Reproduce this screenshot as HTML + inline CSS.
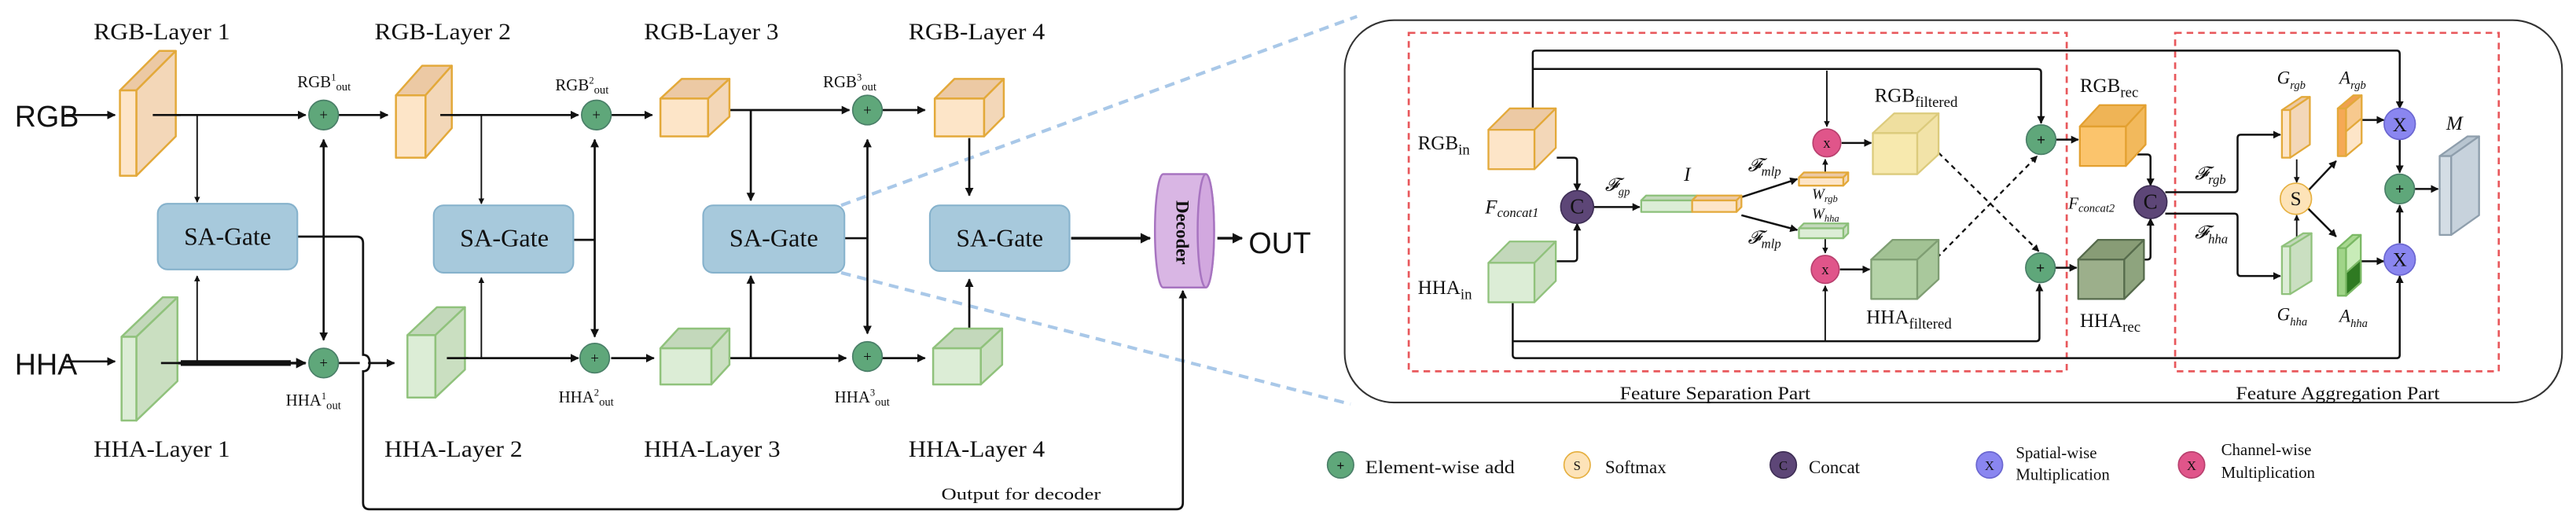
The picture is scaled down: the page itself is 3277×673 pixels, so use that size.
<!DOCTYPE html>
<html><head><meta charset="utf-8"><style>
html,body{margin:0;padding:0;background:#fff;}
svg{display:block;}
text{font-family:"Liberation Serif",serif;fill:#111;}
.sans{font-family:"Liberation Sans",sans-serif;}
.it{font-style:italic;}
</style></head><body>
<svg width="3277" height="673" viewBox="0 0 1568 322" preserveAspectRatio="none" xmlns="http://www.w3.org/2000/svg">
<defs>
<marker id="a" viewBox="0 0 10 10" refX="9" refY="5" markerWidth="4" markerHeight="4" orient="auto-start-reverse"><path d="M0,0 L10,5 L0,10 z" fill="#111"/></marker>
</defs>
<rect width="1568" height="322" fill="#fff"/>

<!-- blue dashed zoom lines -->
<g stroke="#a9c8e8" stroke-width="2" stroke-dasharray="6,4" fill="none">
<line x1="512" y1="125" x2="826" y2="10"/>
<line x1="512" y1="166" x2="822" y2="246"/>
</g>

<!-- ===== LEFT PART ===== -->
<g font-size="14">
<text x="57" y="24" textLength="83" lengthAdjust="spacingAndGlyphs">RGB-Layer 1</text>
<text x="228" y="24" textLength="83" lengthAdjust="spacingAndGlyphs">RGB-Layer 2</text>
<text x="392" y="24" textLength="82" lengthAdjust="spacingAndGlyphs">RGB-Layer 3</text>
<text x="553" y="24" textLength="83" lengthAdjust="spacingAndGlyphs">RGB-Layer 4</text>
<text x="57" y="278" textLength="83" lengthAdjust="spacingAndGlyphs">HHA-Layer 1</text>
<text x="234" y="278" textLength="84" lengthAdjust="spacingAndGlyphs">HHA-Layer 2</text>
<text x="392" y="278" textLength="83" lengthAdjust="spacingAndGlyphs">HHA-Layer 3</text>
<text x="553" y="278" textLength="83" lengthAdjust="spacingAndGlyphs">HHA-Layer 4</text>
</g>
<text class="sans" x="9" y="77" font-size="18">RGB</text>
<text class="sans" x="9" y="228" font-size="18">HHA</text>
<text class="sans" x="760" y="154" font-size="18">OUT</text>
<text x="573" y="304" font-size="10" textLength="97" lengthAdjust="spacingAndGlyphs">Output for decoder</text>

<!-- connectors left -->
<g stroke="#111" stroke-width="1.3" fill="none">
<line x1="40" y1="70" x2="70" y2="70" marker-end="url(#a)"/>
<line x1="40" y1="220" x2="70" y2="220" marker-end="url(#a)"/>
<line x1="93" y1="70" x2="186" y2="70" marker-end="url(#a)"/>
<line x1="206" y1="70" x2="236" y2="70" marker-end="url(#a)"/>
<line x1="268" y1="70" x2="352" y2="70" marker-end="url(#a)"/>
<line x1="372" y1="70" x2="397" y2="70" marker-end="url(#a)"/>
<line x1="436" y1="67" x2="517" y2="67" marker-end="url(#a)"/>
<line x1="537" y1="67" x2="563" y2="67" marker-end="url(#a)"/>
<line x1="98" y1="221" x2="186" y2="221" marker-end="url(#a)" stroke-width="1.6"/>
<line x1="110" y1="221" x2="177" y2="221" stroke-width="3.5"/>
<path d="M206,221 H219 M224,221 H240" marker-end="url(#a)"/>
<line x1="272" y1="218" x2="352" y2="218" marker-end="url(#a)"/>
<line x1="372" y1="218" x2="398" y2="218" marker-end="url(#a)"/>
<line x1="436" y1="218" x2="515" y2="218" marker-end="url(#a)"/>
<line x1="537" y1="218" x2="563" y2="218" marker-end="url(#a)"/>
<line x1="120" y1="70" x2="120" y2="123" marker-end="url(#a)" stroke-width="0.9"/>
<line x1="120" y1="221" x2="120" y2="168" marker-end="url(#a)" stroke-width="0.9"/>
<line x1="293" y1="70" x2="293" y2="124" marker-end="url(#a)" stroke-width="0.9"/>
<line x1="293" y1="218" x2="293" y2="169" marker-end="url(#a)" stroke-width="0.9"/>
<line x1="457" y1="67" x2="457" y2="122" marker-end="url(#a)"/>
<line x1="457" y1="218" x2="457" y2="168" marker-end="url(#a)"/>
<line x1="590" y1="84" x2="590" y2="119" marker-end="url(#a)"/>
<line x1="590" y1="200" x2="590" y2="170" marker-end="url(#a)"/>
<line x1="197" y1="85" x2="197" y2="207" marker-start="url(#a)" marker-end="url(#a)"/>
<line x1="362" y1="85" x2="362" y2="205" marker-start="url(#a)" marker-end="url(#a)"/>
<line x1="528" y1="85" x2="528" y2="203" marker-start="url(#a)" marker-end="url(#a)"/>
<path d="M181,144 H217 Q221,144 221,148 V216 Q225,216 225,221 Q225,226 221,226 V306 Q221,310 225,310 H716 Q720,310 720,306 V177" marker-end="url(#a)"/>
<line x1="349" y1="146" x2="362" y2="146"/>
<line x1="514" y1="145" x2="528" y2="145"/>
<line x1="652" y1="145" x2="700" y2="145" marker-end="url(#a)" stroke-width="1.6"/>
<line x1="741" y1="145" x2="756" y2="145" marker-end="url(#a)" stroke-width="1.6"/>
</g>

<!-- RGB blocks -->
<g stroke="#e3a93a" stroke-width="1.2" stroke-linejoin="round">
<polygon points="73,55 83,55 107,31 97,31" fill="#ecc9a4"/><polygon points="83,55 107,31 107,83 83,107" fill="#f3d7b8"/><rect x="73" y="55" width="10" height="52" fill="#fde5c8"/>
<polygon points="241,58 259,58 275,40 257,40" fill="#ecc9a4"/><polygon points="259,58 275,40 275,78 259,96" fill="#f3d7b8"/><rect x="241" y="58" width="18" height="38" fill="#fde5c8"/>
<polygon points="402,60 431,60 444,48 415,48" fill="#ecc9a4"/><polygon points="431,60 444,48 444,71 431,83" fill="#f3d7b8"/><rect x="402" y="60" width="29" height="23" fill="#fde5c8"/>
<polygon points="569,60 599,60 611,48 581,48" fill="#ecc9a4"/><polygon points="599,60 611,48 611,71 599,83" fill="#f3d7b8"/><rect x="569" y="60" width="30" height="23" fill="#fde5c8"/>
</g>
<!-- HHA blocks -->
<g stroke="#90c27c" stroke-width="1.2" stroke-linejoin="round">
<polygon points="74,205 83,205 108,181 99,181" fill="#c3d8bb"/><polygon points="83,205 108,181 108,232 83,256" fill="#cadfc1"/><rect x="74" y="205" width="9" height="51" fill="#dcedd6"/>
<polygon points="248,204 265,204 283,187 266,187" fill="#c3d8bb"/><polygon points="265,204 283,187 283,225 265,242" fill="#cadfc1"/><rect x="248" y="204" width="17" height="38" fill="#dcedd6"/>
<polygon points="402,212 433,212 444,200 413,200" fill="#c3d8bb"/><polygon points="433,212 444,200 444,222 433,234" fill="#cadfc1"/><rect x="402" y="212" width="31" height="22" fill="#dcedd6"/>
<polygon points="568,212 597,212 610,200 581,200" fill="#c3d8bb"/><polygon points="597,212 610,200 610,222 597,234" fill="#cadfc1"/><rect x="568" y="212" width="29" height="22" fill="#dcedd6"/>
</g>
<!-- redraw lines over slab fronts -->
<g stroke="#111" stroke-width="1.3"><line x1="93" y1="70" x2="110" y2="70"/><line x1="98" y1="221" x2="110" y2="221"/><line x1="268" y1="70" x2="280" y2="70"/><line x1="272" y1="218" x2="285" y2="218"/></g>

<!-- SA gates -->
<g fill="#a7c9dc" stroke="#86b2cc" stroke-width="1">
<rect x="96" y="124" width="85" height="40" rx="6"/>
<rect x="264" y="125" width="85" height="41" rx="6"/>
<rect x="428" y="125" width="86" height="41" rx="6"/>
<rect x="566" y="125" width="85" height="40" rx="6"/>
</g>
<g font-size="15">
<text x="112" y="149" textLength="53" lengthAdjust="spacingAndGlyphs">SA-Gate</text>
<text x="280" y="150" textLength="54" lengthAdjust="spacingAndGlyphs">SA-Gate</text>
<text x="444" y="150" textLength="54" lengthAdjust="spacingAndGlyphs">SA-Gate</text>
<text x="582" y="150" textLength="53" lengthAdjust="spacingAndGlyphs">SA-Gate</text>
</g>

<!-- add circles left -->
<g fill="#5fa77a" stroke="#4a7f68" stroke-width="0.8">
<circle cx="197" cy="70" r="9"/><circle cx="363" cy="70" r="9"/><circle cx="528" cy="67" r="9"/>
<circle cx="197" cy="221" r="9"/><circle cx="362" cy="218" r="9"/><circle cx="528" cy="217" r="9"/>
</g>
<g font-size="9" fill="#fff" text-anchor="middle" class="sans">
<text x="197" y="73" fill="#fff">+</text><text x="363" y="73" fill="#fff">+</text><text x="528" y="70" fill="#fff">+</text>
<text x="197" y="224" fill="#fff">+</text><text x="362" y="221" fill="#fff">+</text><text x="528" y="220" fill="#fff">+</text>
</g>
<g font-size="10">
<text x="181" y="53">RGB<tspan font-size="6" dy="-4">1</tspan><tspan font-size="7" dy="6">out</tspan></text>
<text x="338" y="55">RGB<tspan font-size="6" dy="-4">2</tspan><tspan font-size="7" dy="6">out</tspan></text>
<text x="501" y="53">RGB<tspan font-size="6" dy="-4">3</tspan><tspan font-size="7" dy="6">out</tspan></text>
<text x="174" y="247">HHA<tspan font-size="6" dy="-4">1</tspan><tspan font-size="7" dy="6">out</tspan></text>
<text x="340" y="245">HHA<tspan font-size="6" dy="-4">2</tspan><tspan font-size="7" dy="6">out</tspan></text>
<text x="508" y="245">HHA<tspan font-size="6" dy="-4">3</tspan><tspan font-size="7" dy="6">out</tspan></text>
</g>

<!-- decoder -->
<path d="M708,106 H734 A5,34.5 0 0 1 734,175 H708 A5,34.5 0 0 1 708,106 z" fill="#d9b6e4" stroke="#a774c0" stroke-width="1.2"/>
<ellipse cx="734" cy="140.5" rx="5" ry="34.5" fill="#d2a8df" stroke="#a774c0" stroke-width="1.2"/>
<text x="0" y="0" font-size="11" font-weight="bold" fill="#5a2f6e" transform="translate(716,122) rotate(90)">Decoder</text>

<!-- ===== RIGHT PANEL ===== -->
<rect x="818.5" y="12.3" width="741" height="232.7" rx="30" fill="none" stroke="#333" stroke-width="1"/>
<g fill="none" stroke="#e8585c" stroke-width="1.3" stroke-dasharray="4,3">
<rect x="857.5" y="20" width="400.5" height="206"/>
<rect x="1324" y="20" width="197" height="206"/>
</g>
<text x="986" y="243" font-size="11" textLength="116" lengthAdjust="spacingAndGlyphs">Feature Separation Part</text>
<text x="1361" y="243" font-size="11" textLength="124" lengthAdjust="spacingAndGlyphs">Feature Aggregation Part</text>

<!-- right connectors -->
<g stroke="#111" stroke-width="1.2" fill="none">
<path d="M933,66 V32 Q933,30.8 935,30.8 H1459 Q1460.7,30.8 1460.7,33 V66" marker-end="url(#a)"/>
<path d="M933,42 H1240 Q1242.4,42 1242.4,44 V75" marker-end="url(#a)"/>
<line x1="1112" y1="43" x2="1112" y2="77" marker-end="url(#a)" stroke-width="0.9"/>
<path d="M920.8,184 V216 Q920.8,218 923,218 H1458.7 Q1460.7,218 1460.7,216 V168" marker-end="url(#a)"/>
<path d="M920.8,207.7 H1239.4 Q1241.4,207.7 1241.4,205.7 V173" marker-end="url(#a)"/>
<line x1="1111" y1="207.7" x2="1111" y2="174" marker-end="url(#a)" stroke-width="0.9"/>
<path d="M947.6,96 H958 Q960,96 960,98 V116" marker-end="url(#a)"/>
<path d="M947.6,159 H958 Q960,159 960,157 V136" marker-end="url(#a)"/>
<line x1="970" y1="126" x2="998" y2="126" marker-end="url(#a)"/>
<line x1="1060" y1="120" x2="1094" y2="109" marker-end="url(#a)"/>
<line x1="1060" y1="131" x2="1094" y2="140" marker-end="url(#a)"/>
<line x1="1111" y1="105" x2="1111" y2="97" marker-end="url(#a)" stroke-width="0.9"/>
<line x1="1111" y1="145" x2="1111" y2="154" marker-end="url(#a)" stroke-width="0.9"/>
<line x1="1121" y1="87" x2="1139" y2="87" marker-end="url(#a)"/>
<line x1="1120" y1="164" x2="1138" y2="164" marker-end="url(#a)"/>
<line x1="1251" y1="85" x2="1265" y2="85" marker-end="url(#a)"/>
<line x1="1251" y1="163" x2="1264" y2="163" marker-end="url(#a)"/>
<path d="M1301,94 H1307 Q1309,94 1309,96 V113" marker-end="url(#a)"/>
<path d="M1305,158 H1307 Q1309,158 1309,156 V133" marker-end="url(#a)"/>
<path d="M1318,117 H1360 Q1362,117 1362,115 V84 Q1362,82 1364,82 H1388" marker-end="url(#a)"/>
<path d="M1318,130 H1360 Q1362,130 1362,132 V166 Q1362,168 1364,168 H1388" marker-end="url(#a)"/>
<line x1="1398" y1="97" x2="1398" y2="111" marker-end="url(#a)" stroke-width="0.9"/>
<line x1="1398" y1="144" x2="1398" y2="131" marker-end="url(#a)" stroke-width="0.9"/>
<line x1="1405" y1="116" x2="1422" y2="98" marker-end="url(#a)"/>
<line x1="1405" y1="127" x2="1422" y2="144" marker-end="url(#a)"/>
<line x1="1437" y1="73" x2="1451" y2="73" marker-end="url(#a)"/>
<line x1="1437" y1="159" x2="1451" y2="159" marker-end="url(#a)"/>
<line x1="1460.7" y1="85" x2="1460.7" y2="105" marker-end="url(#a)"/>
<line x1="1460.7" y1="148" x2="1460.7" y2="125" marker-end="url(#a)"/>
<line x1="1470" y1="115" x2="1484" y2="115" marker-end="url(#a)"/>
</g>
<g stroke="#111" stroke-width="1.1" stroke-dasharray="3,2.5" fill="none">
<line x1="1180" y1="93" x2="1241" y2="153" marker-end="url(#a)"/>
<line x1="1179" y1="157" x2="1240" y2="95" marker-end="url(#a)"/>
</g>

<!-- right cubes -->
<g stroke-width="1.1" stroke-linejoin="round">
<g stroke="#e3a93a"><polygon points="906,79 934,79 947,66 919,66" fill="#ecc9a4"/><polygon points="934,79 947,66 947,90 934,103" fill="#f3d7b8"/><rect x="906" y="79" width="28" height="24" fill="#fde5c8"/></g>
<g stroke="#90c27c"><polygon points="906,160 934,160 947,147 919,147" fill="#c3d8bb"/><polygon points="934,160 947,147 947,171 934,184" fill="#cadfc1"/><rect x="906" y="160" width="28" height="24" fill="#dcedd6"/></g>
<g stroke="#dccb7c"><polygon points="1140,81 1167,81 1180,69 1153,69" fill="#efdf9f"/><polygon points="1167,81 1180,69 1180,94 1167,106" fill="#f2e3a8"/><rect x="1140" y="81" width="27" height="25" fill="#f7e9ae"/></g>
<g stroke="#7f9e73"><polygon points="1139,158 1167,158 1180,146 1152,146" fill="#a2c294"/><polygon points="1167,158 1180,146 1180,170 1167,182" fill="#a9c89c"/><rect x="1139" y="158" width="28" height="24" fill="#b5d3a8"/></g>
<g stroke="#e3a030"><polygon points="1266,77 1294,77 1306,64 1278,64" fill="#efb456"/><polygon points="1294,77 1306,64 1306,88 1294,101" fill="#f2b95c"/><rect x="1266" y="77" width="28" height="24" fill="#fbc46c"/></g>
<g stroke="#566b4c"><polygon points="1265,158 1293,158 1305,146 1277,146" fill="#889c76"/><polygon points="1293,158 1305,146 1305,170 1293,182" fill="#8ea47e"/><rect x="1265" y="158" width="28" height="24" fill="#9caf8b"/></g>
<!-- I vector -->
<g stroke="#8cc07a"><polygon points="999,122 1030,122 1033,119 1002,119" fill="#c3d8bb"/><rect x="999" y="122" width="31" height="7" fill="#dcedd6"/></g>
<g stroke="#e3a93a"><polygon points="1030,122 1057,122 1060,119 1033,119" fill="#ecc9a4"/><polygon points="1057,122 1060,119 1060,126 1057,129" fill="#f3d7b8"/><rect x="1030" y="122" width="27" height="7" fill="#fde5c8"/></g>
<g stroke="#e3a93a"><polygon points="1095,108 1122,108 1125,105 1098,105" fill="#ecc9a4"/><polygon points="1122,108 1125,105 1125,110 1122,113" fill="#f3d7b8"/><rect x="1095" y="108" width="27" height="5" fill="#fde5c8"/></g>
<g stroke="#8cc07a"><polygon points="1095,139 1122,139 1125,136 1098,136" fill="#c3d8bb"/><polygon points="1122,139 1125,136 1125,142 1122,145" fill="#cadfc1"/><rect x="1095" y="139" width="27" height="6" fill="#dcedd6"/></g>
<!-- slabs -->
<g stroke="#e3a93a"><polygon points="1389,67 1394,67 1406,59 1401,59" fill="#ecc9a4"/><polygon points="1394,67 1406,59 1406,88 1394,96" fill="#f3d7b8"/><rect x="1389" y="67" width="5" height="29" fill="#fde5c8"/></g>
<g stroke="#e3a93a"><polygon points="1423,66 1428,66 1437.5,58 1432.5,58" fill="#f0a050"/><polygon points="1428,66 1437.5,58 1437.5,87 1428,95" fill="#fde5c8"/><polygon points="1428,66 1437.5,58 1437.5,72 1428,80" fill="#f7c98e"/><rect x="1423" y="66" width="5" height="29" fill="#f5a955"/></g>
<g stroke="#90c27c"><polygon points="1389,150 1394,150 1407,142 1402,142" fill="#c3d8bb"/><polygon points="1394,150 1407,142 1407,171 1394,179" fill="#cadfc1"/><rect x="1389" y="150" width="5" height="29" fill="#dcedd6"/></g>
<g stroke="#7ab864"><polygon points="1423,151 1428,151 1437,143 1432,143" fill="#a8d890"/><polygon points="1428,151 1437,143 1437,172 1428,180" fill="#c8ecb8"/><polygon points="1428,166 1437,158 1437,172 1428,180" fill="#2f7a22"/><rect x="1423" y="151" width="5" height="29" fill="#a0d488"/></g>
<g stroke="#8e9eac"><polygon points="1485,95 1492,95 1509,83 1502,83" fill="#b8c5d0"/><polygon points="1492,95 1509,83 1509,131 1492,143" fill="#c7d2dc"/><rect x="1485" y="95" width="7" height="48" fill="#d4dde5"/></g>
</g>

<!-- right circles -->
<g stroke-width="0.8">
<circle cx="960" cy="126" r="10" fill="#5d4677" stroke="#3e2e55"/>
<circle cx="1309" cy="123" r="10" fill="#5d4677" stroke="#3e2e55"/>
<circle cx="1112" cy="87" r="8.5" fill="#e0558a" stroke="#b8406e"/>
<circle cx="1111" cy="164" r="8.5" fill="#e0558a" stroke="#b8406e"/>
<circle cx="1242.4" cy="85" r="9" fill="#5fa77a" stroke="#4a7f68"/>
<circle cx="1242" cy="163" r="9" fill="#5fa77a" stroke="#4a7f68"/>
<circle cx="1397.5" cy="121" r="9.5" fill="#fde3b8" stroke="#e6b040"/>
<circle cx="1460.7" cy="75.4" r="9.5" fill="#8a86f0" stroke="#6a66d0"/>
<circle cx="1460.7" cy="158" r="9.5" fill="#8a86f0" stroke="#6a66d0"/>
<circle cx="1460.7" cy="115" r="9" fill="#5fa77a" stroke="#4a7f68"/>
</g>
<g font-size="11" text-anchor="middle">
<text x="960" y="130" fill="#fff" font-size="13">C</text>
<text x="1309" y="127" fill="#fff" font-size="13">C</text>
<text x="1112" y="90" fill="#fff" font-size="9">x</text>
<text x="1111" y="167" fill="#fff" font-size="9">x</text>
<text x="1242.4" y="88" fill="#fff" font-size="9" class="sans">+</text>
<text x="1242" y="166" fill="#fff" font-size="9" class="sans">+</text>
<text x="1397.5" y="125" font-size="12">S</text>
<text x="1460.7" y="80" fill="#fff" font-size="12">X</text>
<text x="1460.7" y="162" fill="#fff" font-size="12">X</text>
<text x="1460.7" y="118" fill="#fff" font-size="9" class="sans">+</text>
</g>

<!-- right labels -->
<g font-size="12">
<text x="863" y="91">RGB<tspan font-size="9" dy="3">in</tspan></text>
<text x="863" y="179">HHA<tspan font-size="9" dy="3">in</tspan></text>
<text x="1141" y="62">RGB<tspan font-size="9" dy="3">filtered</tspan></text>
<text x="1136" y="197">HHA<tspan font-size="9" dy="3">filtered</tspan></text>
<text x="1266" y="56">RGB<tspan font-size="9" dy="3">rec</tspan></text>
<text x="1266" y="199">HHA<tspan font-size="9" dy="3">rec</tspan></text>
<text x="904" y="130" class="it">F<tspan font-size="8" dy="2">concat1</tspan></text>
<text x="1259" y="127" class="it" font-size="10">F<tspan font-size="7" dy="2">concat2</tspan></text>
<text x="977" y="116" class="it" font-size="11">𝓕<tspan font-size="7" dy="3">gp</tspan></text>
<text x="1025" y="110" class="it">I</text>
<text x="1064" y="104" class="it" font-size="11">𝓕<tspan font-size="8" dy="3">mlp</tspan></text>
<text x="1064" y="148" class="it" font-size="11">𝓕<tspan font-size="8" dy="3">mlp</tspan></text>
<text x="1103" y="121" class="it" font-size="9" fill="#555">W<tspan font-size="6" dy="2">rgb</tspan></text>
<text x="1103" y="133" class="it" font-size="9" fill="#555">W<tspan font-size="6" dy="2">hha</tspan></text>
<text x="1336" y="109" class="it" font-size="11">𝓕<tspan font-size="8" dy="3">rgb</tspan></text>
<text x="1336" y="145" class="it" font-size="11">𝓕<tspan font-size="8" dy="3">hha</tspan></text>
<text x="1386" y="51" class="it" font-size="11" fill="#444">G<tspan font-size="7" dy="3">rgb</tspan></text>
<text x="1424" y="51" class="it" font-size="11" fill="#444">A<tspan font-size="7" dy="3">rgb</tspan></text>
<text x="1386" y="195" class="it" font-size="11" fill="#444">G<tspan font-size="7" dy="3">hha</tspan></text>
<text x="1424" y="196" class="it" font-size="11" fill="#444">A<tspan font-size="7" dy="3">hha</tspan></text>
<text x="1489" y="79" class="it" font-size="12">M</text>
</g>

<!-- legend -->
<g stroke-width="0.8">
<circle cx="816" cy="283" r="8" fill="#5fa77a" stroke="#4a7f68"/>
<circle cx="960" cy="283" r="8" fill="#fde3b8" stroke="#e6b040"/>
<circle cx="1085.5" cy="283" r="8" fill="#5d4677" stroke="#3e2e55"/>
<circle cx="1211" cy="283" r="8" fill="#8a86f0" stroke="#6a66d0"/>
<circle cx="1334" cy="283" r="8" fill="#e0558a" stroke="#b8406e"/>
</g>
<g font-size="8" text-anchor="middle">
<text x="816" y="286" fill="#fff" class="sans">+</text>
<text x="960" y="286">S</text>
<text x="1085.5" y="286" fill="#fff">C</text>
<text x="1211" y="286" fill="#fff">X</text>
<text x="1334" y="286" fill="#fff">X</text>
</g>
<g font-size="11">
<text x="831" y="288" textLength="91" lengthAdjust="spacingAndGlyphs">Element-wise add</text>
<text x="977" y="288">Softmax</text>
<text x="1101" y="288">Concat</text>
<text x="1227" y="279" font-size="10">Spatial-wise</text>
<text x="1227" y="292" font-size="10">Multiplication</text>
<text x="1352" y="277" font-size="10">Channel-wise</text>
<text x="1352" y="291" font-size="10">Multiplication</text>
</g>
</svg>
</body></html>
